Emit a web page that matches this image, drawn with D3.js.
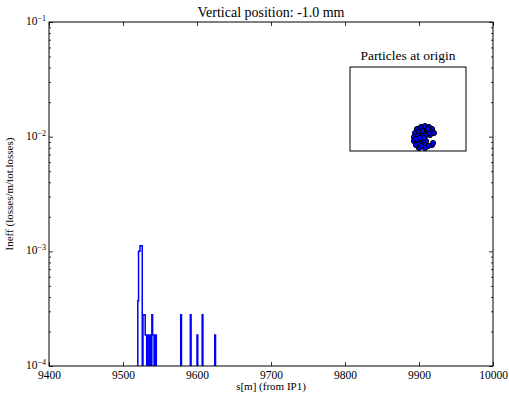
<!DOCTYPE html>
<html>
<head>
<meta charset="utf-8">
<script src="https://cdn.jsdelivr.net/npm/d3@7"></script>
<style>
  html, body { margin: 0; padding: 0; background: #fff; }
  svg text { font-family: "Liberation Serif", "DejaVu Serif", serif; fill: #000; }
</style>
</head>
<body>
<svg id="chart" width="509" height="393"></svg>
<script>
// Loss histogram: 1 m bins (bin start position in m, loss value per bin)
const binStart = [9520, 9521, 9522, 9523, 9524, 9525, 9526, 9527, 9528, 9529,
                  9530, 9531, 9532, 9533, 9534, 9535, 9536, 9537, 9538, 9539,
                  9540, 9541, 9542, 9543, 9544, 9545,
                  9577, 9578, 9579, 9590, 9591, 9592, 9599, 9600, 9601,
                  9606, 9607, 9608, 9623, 9624, 9625];
const lossValue = [3.7e-4, 1.0e-3, 1.0e-3, 1.12e-3, 1.12e-3, 1.12e-3, 0, 2.8e-4, 2.8e-4, 2.8e-4,
                   1.86e-4, 1.86e-4, 0, 1.86e-4, 1.86e-4, 0, 1.86e-4, 1.86e-4, 0, 2.8e-4,
                   1.86e-4, 1.86e-4, 0, 1.86e-4, 1.86e-4, 0,
                   0, 2.8e-4, 0, 0, 2.8e-4, 0, 0, 1.86e-4, 0,
                   0, 2.8e-4, 0, 0, 1.86e-4, 0];
const binWidth = 1;

// Axis ticks
const xTicks = [9400, 9500, 9600, 9700, 9800, 9900, 10000];
const yDecades = [-4, -3, -2, -1];

// Particle positions at origin (inset, normalised units)
const particleX = [0.155, 0.224, 0.293, 0.362, 0.414,
                   0.121, 0.190, 0.259, 0.328, 0.397, 0.448,
                   0.103, 0.172, 0.241, 0.310, 0.379,
                   0.103, 0.172, 0.241, 0.310,
                   0.138, 0.207, 0.276, 0.345, 0.414,
                   0.190, 0.293, 0.431,
                   0.138, 0.207, 0.276, 0.362, 0.224, 0.345];
const particleY = [-0.476, -0.429, -0.405, -0.429, -0.476,
                   -0.571, -0.548, -0.524, -0.524, -0.548, -0.571,
                   -0.667, -0.643, -0.643, -0.619, -0.619,
                   -0.762, -0.738, -0.738, -0.762,
                   -0.857, -0.833, -0.857, -0.881, -0.857,
                   -0.929, -0.929, -0.810,
                   -0.714, -0.690, -0.690, -0.571, -0.881, -0.476];

const svg = d3.select("#chart");
const W = 509, H = 393;
const m = { left: 49, right: 16, top: 22, bottom: 27 };
const pw = W - m.left - m.right, ph = H - m.top - m.bottom;

const x = d3.scaleLinear().domain([9400, 10000]).range([m.left, m.left + pw]);
const y = d3.scaleLog().domain([1e-4, 1e-1]).range([m.top + ph, m.top]);

svg.append("rect").attr("width", W).attr("height", H).attr("fill", "#fff");

svg.append("defs").append("clipPath").attr("id", "plotClip")
  .append("rect").attr("x", m.left).attr("y", m.top).attr("width", pw).attr("height", ph);

// Step outline of the histogram; empty bins drop below the lower limit
const below = m.top + ph + 10;
let path = d3.path();
path.moveTo(x(binStart[0]), below);
binStart.forEach((s, i) => {
  const v = lossValue[i];
  const yy = v > 0 ? y(v) : below;
  path.lineTo(x(s), yy);
  path.lineTo(x(s + binWidth), yy);
});
path.lineTo(x(binStart[binStart.length - 1] + binWidth), below);

svg.append("path")
  .attr("clip-path", "url(#plotClip)")
  .attr("d", path.toString())
  .attr("fill", "none")
  .attr("stroke", "#0000ff")
  .attr("stroke-width", 1.5)
  .attr("stroke-linejoin", "miter");

// Frame
svg.append("rect")
  .attr("x", m.left).attr("y", m.top).attr("width", pw).attr("height", ph)
  .attr("fill", "none").attr("stroke", "#000").attr("stroke-width", 1);

// X axes (bottom with labels, top ticks only), ticks pointing inward
const xb = svg.append("g").attr("transform", `translate(0,${m.top + ph})`)
  .call(d3.axisBottom(x).tickValues(xTicks).tickSize(-4).tickPadding(5).tickFormat(d3.format("d")));
svg.append("g").attr("transform", `translate(0,${m.top})`)
  .call(d3.axisTop(x).tickValues(xTicks).tickSize(-4).tickFormat(""));

// Y axes with major and minor log ticks
const minor = [];
yDecades.slice(0, -1).forEach(e => { for (let k = 2; k <= 9; k++) minor.push(k * Math.pow(10, e)); });
const majors = yDecades.map(e => Math.pow(10, e));
svg.append("g").attr("transform", `translate(${m.left},0)`)
  .call(d3.axisLeft(y).tickValues(majors).tickSize(-4).tickFormat(""));
svg.append("g").attr("transform", `translate(${m.left},0)`)
  .call(d3.axisLeft(y).tickValues(minor).tickSize(-2).tickFormat(""));
svg.append("g").attr("transform", `translate(${m.left + pw},0)`)
  .call(d3.axisRight(y).tickValues(majors).tickSize(-4).tickFormat(""));
svg.append("g").attr("transform", `translate(${m.left + pw},0)`)
  .call(d3.axisRight(y).tickValues(minor).tickSize(-2).tickFormat(""));

svg.selectAll(".domain").remove();
svg.selectAll(".tick line").attr("stroke", "#000").attr("stroke-width", 0.8);
xb.selectAll("text").attr("font-size", 11.5).attr("font-family", "Liberation Serif");

// Power-of-ten labels on the y axis
yDecades.forEach(e => {
  const t = svg.append("text")
    .attr("x", m.left - 3).attr("y", y(Math.pow(10, e)) + 3)
    .attr("text-anchor", "end").attr("font-size", 11.5);
  t.append("tspan").text("10");
  t.append("tspan").attr("dy", -4).attr("font-size", 8).text("\u2212" + Math.abs(e));
});

// Titles
svg.append("text").attr("x", m.left + pw / 2).attr("y", 17)
  .attr("text-anchor", "middle").attr("font-size", 14)
  .text("Vertical position: -1.0 mm");
svg.append("text").attr("x", m.left + pw / 2).attr("y", 390)
  .attr("text-anchor", "middle").attr("font-size", 11)
  .text("s[m] (from IP1)");
svg.append("text")
  .attr("transform", `translate(13,${m.top + ph / 2}) rotate(-90)`)
  .attr("text-anchor", "middle").attr("font-size", 11)
  .text("Ineff (losses/m/tot.losses)");

// Inset: particle distribution at the origin
const ib = { x: 350, y: 67, w: 116, h: 84 };
const ix = d3.scaleLinear().domain([-1, 1]).range([ib.x, ib.x + ib.w]);
const iy = d3.scaleLinear().domain([-1, 1]).range([ib.y + ib.h, ib.y]);
svg.append("rect").attr("x", ib.x).attr("y", ib.y).attr("width", ib.w).attr("height", ib.h)
  .attr("fill", "#fff").attr("stroke", "#000").attr("stroke-width", 1);
svg.append("text").attr("x", ib.x + ib.w / 2).attr("y", ib.y - 7)
  .attr("text-anchor", "middle").attr("font-size", 13.5)
  .text("Particles at origin");
svg.append("g").selectAll("circle")
  .data(particleX.map((px, i) => [px, particleY[i]]))
  .join("circle")
  .attr("cx", d => ix(d[0])).attr("cy", d => iy(d[1]))
  .attr("r", 2.6)
  .attr("fill", "#0000ff").attr("stroke", "#000").attr("stroke-width", 1);
</script>
</body>
</html>
